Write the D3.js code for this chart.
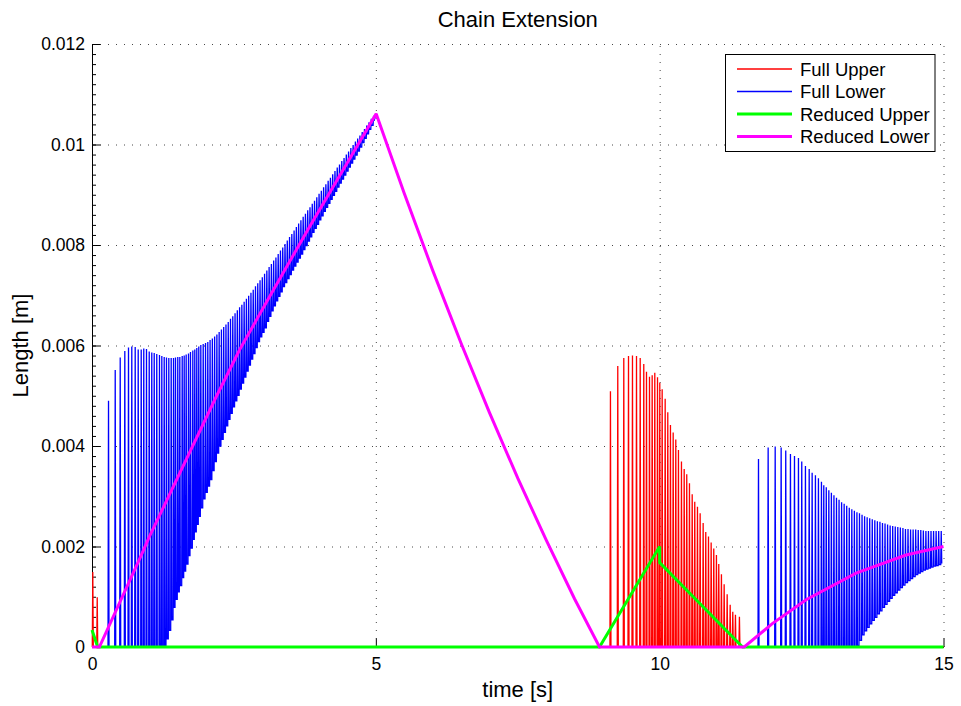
<!DOCTYPE html>
<html>
<head>
<meta charset="utf-8">
<script src="https://cdn.jsdelivr.net/npm/d3@7"></script>
<style>
  body { margin: 0; background: #fff; }
  text { font-family: "Liberation Sans", Arial, Helvetica, sans-serif; fill: #000; }
</style>
</head>
<body>
<div id="chart"></div>
<script>
// axis ticks
const xTicks = [0, 5, 10, 15];
const yTicks = [0, 0.002, 0.004, 0.006, 0.008, 0.01, 0.012];
const yTickLabels = ['0', '0.002', '0.004', '0.006', '0.008', '0.01', '0.012'];

const seriesNames = ['Full Upper', 'Full Lower', 'Reduced Upper', 'Reduced Lower'];
const seriesColors = ['#ff0000', '#0000ff', '#00ff00', '#ff00ff'];

// all lengths below are in mm, time in s

// Full Upper: spike times, spike peaks (chain goes slack to 0 between spikes)
const fullUpperT = [0.014, 0.092,
  9.133, 9.262, 9.368, 9.451, 9.521, 9.592, 9.657, 9.720, 9.768, 9.821,
  9.868, 9.914, 9.962, 10.002, 10.044, 10.097, 10.143, 10.190, 10.238, 10.284,
  10.331, 10.384, 10.432, 10.477, 10.525, 10.573, 10.618, 10.666, 10.713, 10.766,
  10.812, 10.860, 10.907, 10.953, 11.000, 11.041, 11.088, 11.136, 11.189, 11.242,
  11.288, 11.335, 11.405];
const fullUpperPeak = [1.49, 0.99,
  5.09, 5.59, 5.75, 5.79, 5.80, 5.79, 5.75, 5.63, 5.48, 5.38,
  5.41, 5.46, 5.37, 5.26, 5.13, 4.94, 4.67, 4.42, 4.27, 4.13,
  3.92, 3.69, 3.54, 3.44, 3.26, 3.04, 2.89, 2.79, 2.66, 2.47,
  2.29, 2.20, 2.08, 1.96, 1.83, 1.65, 1.45, 1.25, 1.05, 0.84,
  0.70, 0.64, 0.60];
const fullUpperLow = 0;

// Full Lower, first burst (0.3 s .. 5 s)
const fullLowerT1 = [0.291, 0.409, 0.497, 0.578, 0.643, 0.701, 0.761, 0.814, 0.867, 0.912,
  0.960, 1.008, 1.053, 1.096, 1.141, 1.189, 1.230, 1.272, 1.312, 1.353,
  1.395, 1.436, 1.471, 1.511, 1.547, 1.589, 1.624, 1.659, 1.700, 1.735,
  1.776, 1.811, 1.846, 1.881, 1.917, 1.959, 2.000, 2.040,
  2.08, 2.12, 2.16, 2.20, 2.24, 2.28, 2.32, 2.36, 2.40, 2.44, 2.48, 2.52, 2.56, 2.60,
  2.64, 2.68, 2.72, 2.76, 2.80, 2.84, 2.88, 2.92, 2.96, 3.00, 3.04, 3.08, 3.12, 3.16,
  3.20, 3.24, 3.28, 3.32, 3.36, 3.40, 3.44, 3.48, 3.52, 3.56, 3.60, 3.64, 3.68, 3.72,
  3.76, 3.80, 3.84, 3.88, 3.92, 3.96, 4.00, 4.04, 4.08, 4.12, 4.16, 4.20, 4.24, 4.28,
  4.32, 4.36, 4.40, 4.44, 4.48, 4.52, 4.56, 4.60, 4.64, 4.68, 4.72, 4.76, 4.80, 4.84,
  4.88, 4.92, 4.96];
const fullLowerPeak1 = [4.90, 5.51, 5.76, 5.89, 5.96, 5.98, 5.97, 5.92, 5.92, 5.94,
  5.93, 5.88, 5.86, 5.85, 5.83, 5.81, 5.79, 5.77, 5.76, 5.75,
  5.75, 5.75, 5.76, 5.77, 5.77, 5.79, 5.80, 5.82, 5.84, 5.87,
  5.90, 5.92, 5.95, 5.98, 6.01, 6.03, 6.05, 6.07,
  6.11, 6.14, 6.18, 6.22, 6.27, 6.32, 6.37, 6.42, 6.47, 6.53, 6.58, 6.64, 6.70, 6.76,
  6.81, 6.87, 6.93, 6.99, 7.05, 7.11, 7.18, 7.24, 7.30, 7.36, 7.43, 7.49, 7.56, 7.62,
  7.69, 7.75, 7.82, 7.89, 7.95, 8.02, 8.09, 8.16, 8.22, 8.29, 8.36, 8.43, 8.49, 8.56,
  8.62, 8.69, 8.75, 8.82, 8.88, 8.95, 9.02, 9.08, 9.15, 9.21, 9.28, 9.34, 9.41, 9.47,
  9.54, 9.60, 9.67, 9.73, 9.80, 9.86, 9.93, 9.99, 10.06, 10.12, 10.18, 10.25, 10.31, 10.38,
  10.44, 10.51, 10.57];
const fullLowerLow1 = [0, 0, 0, 0, 0, 0, 0, 0, 0, 0,
  0, 0, 0, 0, 0, 0, 0, 0, 0.16, 0.33,
  0.54, 0.79, 0.95, 1.10, 1.22, 1.38, 1.51, 1.65, 1.82, 1.97,
  2.14, 2.29, 2.44, 2.60, 2.77, 2.95, 3.08, 3.20,
  3.33, 3.51, 3.69, 3.86, 4.00, 4.13, 4.27, 4.40, 4.53, 4.65, 4.78, 4.90, 5.01, 5.13,
  5.25, 5.37, 5.49, 5.61, 5.73, 5.84, 5.96, 6.08, 6.17, 6.26, 6.35, 6.48, 6.58, 6.69,
  6.79, 6.89, 6.98, 7.07, 7.17, 7.25, 7.33, 7.41, 7.50, 7.58, 7.66, 7.74, 7.82, 7.91,
  7.99, 8.08, 8.16, 8.25, 8.33, 8.41, 8.50, 8.58, 8.67, 8.75, 8.83, 8.91, 8.99, 9.07,
  9.15, 9.23, 9.31, 9.39, 9.47, 9.55, 9.63, 9.71, 9.79, 9.87, 9.95, 10.04, 10.12, 10.21,
  10.30, 10.38, 10.47];

// Full Lower, second burst (11.7 s .. 15 s)
const fullLowerT2 = [11.741, 11.911, 12.035, 12.140, 12.221, 12.304, 12.375, 12.445, 12.503, 12.568,
  12.634, 12.686, 12.744, 12.797, 12.850, 12.891,
  12.935, 12.980, 13.025, 13.070, 13.115, 13.160, 13.205, 13.250, 13.295, 13.340,
  13.385, 13.430, 13.475, 13.520, 13.565, 13.610, 13.655, 13.700, 13.745, 13.790,
  13.835, 13.880, 13.925, 13.970, 14.015, 14.060, 14.105, 14.150, 14.195, 14.240,
  14.285, 14.330, 14.375, 14.420, 14.465, 14.510, 14.555, 14.600, 14.645, 14.690,
  14.735, 14.780, 14.825, 14.870, 14.915, 14.960];
const fullLowerPeak2 = [3.74, 3.97, 3.99, 3.97, 3.91, 3.84, 3.80, 3.76, 3.69, 3.60,
  3.54, 3.47, 3.42, 3.36, 3.29, 3.22,
  3.18, 3.12, 3.07, 3.02, 2.97, 2.93, 2.88, 2.85, 2.81, 2.77,
  2.74, 2.71, 2.68, 2.66, 2.63, 2.60, 2.58, 2.56, 2.54, 2.52,
  2.50, 2.49, 2.47, 2.46, 2.44, 2.42, 2.41, 2.40, 2.39, 2.38,
  2.37, 2.35, 2.35, 2.34, 2.34, 2.34, 2.33, 2.33, 2.32, 2.31,
  2.31, 2.31, 2.31, 2.31, 2.31, 2.31];
const fullLowerLow2 = [0, 0, 0, 0, 0, 0, 0, 0, 0, 0,
  0, 0, 0, 0, 0, 0,
  0, 0, 0, 0, 0, 0, 0, 0, 0, 0,
  0, 0, 0.03, 0.13, 0.24, 0.32, 0.39, 0.46, 0.53, 0.59,
  0.66, 0.72, 0.79, 0.85, 0.91, 0.97, 1.03, 1.08, 1.13, 1.18,
  1.23, 1.28, 1.32, 1.36, 1.40, 1.44, 1.47, 1.50, 1.53, 1.55,
  1.57, 1.59, 1.61, 1.62, 1.64, 1.66];

// Reduced model
const reducedUpperT = [0, 0.10, 8.94, 10.0, 10.0, 11.46, 15];
const reducedUpperV = [0.34, 0, 0, 2.00, 1.68, 0, 0];
const reducedLowerT = [0, 0.13, 0.837, 1.013, 2.188, 2.598, 3.097, 3.83, 5.006,
  5.5, 6.0, 6.5, 7.0, 7.5, 8.0, 8.5, 8.94, 11.49, 11.99, 12.58, 13.46, 14.34, 15];
const reducedLowerV = [0, 0, 1.75, 2.20, 4.98, 5.91, 6.91, 8.36, 10.61,
  9.03, 7.50, 6.05, 4.67, 3.36, 2.13, 0.96, 0, 0, 0.47, 0.94, 1.47, 1.83, 2.00];

const width = 961;
const height = 706;
const plot = {'left': 92, 'right': 943.5, 'top': 44, 'bottom': 647};
const spikeHalf = 0.009;

const x = d3.scaleLinear().domain([0, 15]).range([plot.left, plot.right]);
const y = d3.scaleLinear().domain([0, 0.012]).range([plot.bottom, plot.top]);

const line = d3.line()
  .x(d => x(d[0]))
  .y(d => y(d[1] / 1000));

let pairs = (ts, vs) => ts.map((t, i) => [t, vs[i]]);

let spikes = (times, peaks, lows) => {
  const low = i => (Array.isArray(lows) ? lows[i] : lows);
  const pts = [];
  times.forEach((t, i) => {
    const before = i === 0 ? 0 : low(i - 1);
    pts.push([t - spikeHalf, before], [t, peaks[i]], [t + spikeHalf, low(i)]);
  });
  return pts;
};

const fullUpper = [[0, 0], ...spikes(fullUpperT, fullUpperPeak, fullUpperLow), [15, 0]];
// between the bursts the full lower chain follows the reduced one
const shared = pairs(reducedLowerT, reducedLowerV).filter(d => d[0] >= 5 && d[0] <= 11.5);
const fullLower = [[0, 0], ...spikes(fullLowerT1, fullLowerPeak1, fullLowerLow1),
  ...shared, ...spikes(fullLowerT2, fullLowerPeak2, fullLowerLow2)];
const reducedUpper = pairs(reducedUpperT, reducedUpperV);
const reducedLower = pairs(reducedLowerT, reducedLowerV);

const svg = d3.select('#chart')
  .append('svg')
  .attr('width', width)
  .attr('height', height);

svg.append('rect')
  .attr('width', width)
  .attr('height', height)
  .attr('fill', '#fff');

// dotted grid
const grid = svg.append('g').attr('id', 'grid')
  .attr('stroke', '#333')
  .attr('stroke-width', 0.9)
  .attr('stroke-dasharray', '1,7');

grid.selectAll('.gx')
  .data(xTicks.filter(d => d > 0))
  .enter()
  .append('line')
  .attr('x1', d => x(d) + 0.5)
  .attr('x2', d => x(d) + 0.5)
  .attr('y1', plot.bottom)
  .attr('y2', plot.top);

grid.selectAll('.gy')
  .data(yTicks.filter(d => d > 0))
  .enter()
  .append('line')
  .attr('x1', plot.left)
  .attr('x2', plot.right)
  .attr('y1', d => y(d) + 0.5)
  .attr('y2', d => y(d) + 0.5);

// axes, ticks pointing inwards
const xAxis = svg.append('g')
  .attr('transform', `translate(0, ${plot.bottom})`)
  .call(d3.axisBottom(x).tickValues(xTicks).tickSize(-8.5).tickSizeOuter(0).tickPadding(11));

const yMinor = svg.append('g')
  .attr('transform', `translate(${plot.left}, 0)`)
  .call(d3.axisLeft(y).tickValues(d3.range(0, 0.01201, 0.0002)).tickSize(-4).tickSizeOuter(0).tickFormat(''));

const yAxis = svg.append('g')
  .attr('transform', `translate(${plot.left}, 0)`)
  .call(d3.axisLeft(y).tickValues(yTicks).tickSize(-8.5).tickSizeOuter(0).tickPadding(7)
    .tickFormat((d, i) => yTickLabels[i]));

[xAxis, yAxis, yMinor].forEach(a => {
  a.selectAll('path, line').attr('stroke', '#000');
  a.selectAll('text')
    .attr('font-size', '17.5px')
    .attr('font-family', '"Liberation Sans", Arial, sans-serif')
    .attr('fill', '#000');
});

// series, drawn in legend order
const curves = [fullUpper, fullLower, reducedUpper, reducedLower];
const widths = [1.3, 1.3, 3, 3];

svg.append('g')
  .attr('id', 'series')
  .selectAll('path')
  .data(curves)
  .enter()
  .append('path')
  .attr('d', line)
  .attr('fill', 'none')
  .attr('stroke', (d, i) => seriesColors[i])
  .attr('stroke-width', (d, i) => widths[i])
  .attr('stroke-linejoin', 'miter')
  .attr('stroke-miterlimit', 2);

// labels
svg.append('text')
  .text('Chain Extension')
  .attr('x', (plot.left + plot.right) / 2)
  .attr('y', 27)
  .attr('text-anchor', 'middle')
  .attr('font-size', '22px');

svg.append('text')
  .text('time [s]')
  .attr('x', (plot.left + plot.right) / 2)
  .attr('y', 697)
  .attr('text-anchor', 'middle')
  .attr('font-size', '22px');

svg.append('text')
  .text('Length [m]')
  .attr('transform', `translate(28, ${(plot.top + plot.bottom) / 2}) rotate(-90)`)
  .attr('text-anchor', 'middle')
  .attr('font-size', '22px');

// legend
const legend = svg.append('g')
  .attr('id', 'legend')
  .attr('transform', `translate(${725.5}, ${54.5})`);

legend.append('rect')
  .attr('width', 209.5)
  .attr('height', 97)
  .attr('fill', '#fff')
  .attr('stroke', '#000');

const entries = legend.selectAll('g')
  .data(seriesNames)
  .enter()
  .append('g')
  .attr('transform', (d, i) => `translate(0, ${14.5 + i * 22.5})`);

entries.append('line')
  .attr('x1', 11.5)
  .attr('x2', 66.5)
  .attr('stroke', (d, i) => seriesColors[i])
  .attr('stroke-width', (d, i) => (i < 2 ? 1.4 : 3));

entries.append('text')
  .text(d => d)
  .attr('x', 74.5)
  .attr('dy', '0.36em')
  .attr('font-size', '18.5px');
</script>
</body>
</html>
